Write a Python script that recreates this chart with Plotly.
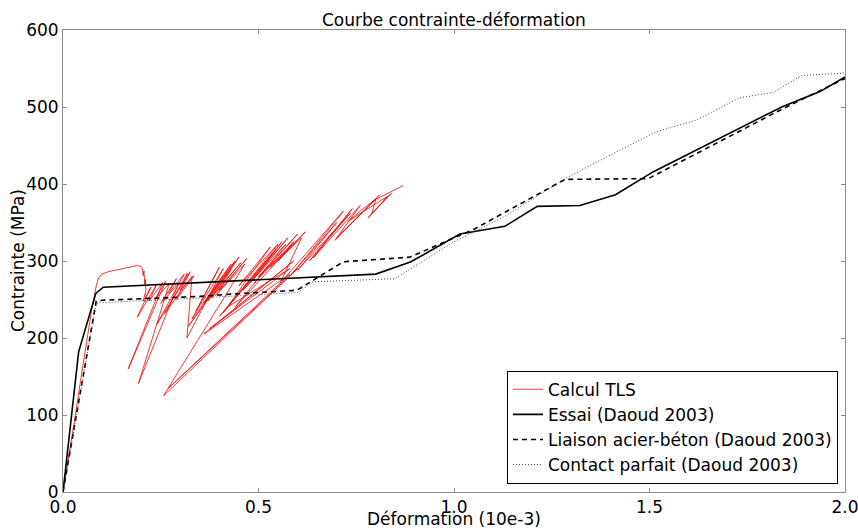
import plotly.graph_objects as go

# Essai (Daoud 2003) - courbe expérimentale
essai_x = [0.0, 0.04, 0.084, 0.103, 0.555, 0.80, 0.89, 1.015, 1.13, 1.213, 1.322, 1.413, 1.51, 1.838, 1.936, 2.0]
essai_y = [0, 182, 258, 266, 277, 283, 299, 335, 345, 371, 372, 386, 416, 500, 520, 539]

# Liaison acier-béton (Daoud 2003)
liaison_x = [0.0, 0.085, 0.1, 0.35, 0.43, 0.598, 0.64, 0.717, 0.887, 1.054, 1.284, 1.497, 1.838, 2.0]
liaison_y = [0, 248, 249, 254, 257, 262, 275, 299, 305, 342, 406, 407, 497, 537]

# Contact parfait (Daoud 2003)
contact_x = [0.0, 0.085, 0.1, 0.35, 0.6, 0.64, 0.849, 1.0, 1.13, 1.284, 1.39, 1.518, 1.62, 1.731, 1.817, 1.889, 2.0]
contact_y = [0, 245, 246, 252, 259, 273, 277, 325, 358, 407, 435, 468, 483, 512, 519, 541, 544]

# Calcul TLS - réponse numérique (chargement puis cycles de décharge/recharge)
tls_x = [0.0, 0.015, 0.03, 0.045, 0.06, 0.072, 0.08, 0.086, 0.092, 0.1, 0.115, 0.14, 0.17, 0.19, 0.2,
         0.203, 0.205, 0.207, 0.209, 0.211, 0.212,
         0.205, 0.225, 0.19, 0.24, 0.22, 0.255,
         0.167, 0.262, 0.235, 0.272, 0.193, 0.295,
         0.25, 0.29, 0.27, 0.31, 0.24, 0.325,
         0.29, 0.335, 0.30, 0.318, 0.26, 0.33,
         0.317, 0.41, 0.34, 0.40, 0.33, 0.43, 0.36, 0.44, 0.32, 0.45,
         0.38, 0.455, 0.37, 0.43, 0.40, 0.47, 0.39, 0.465,
         0.257, 0.60, 0.27, 0.58, 0.36, 0.59, 0.375, 0.58,
         0.42, 0.53, 0.45, 0.55, 0.41, 0.545, 0.40, 0.56, 0.48, 0.575, 0.46, 0.57,
         0.44, 0.585, 0.5, 0.6, 0.49, 0.59, 0.55, 0.62, 0.53, 0.61,
         0.555, 0.717, 0.565, 0.71, 0.58, 0.70, 0.60, 0.735, 0.63, 0.74, 0.64, 0.76,
         0.696, 0.81, 0.70, 0.80, 0.79, 0.84, 0.78, 0.83,
         0.73, 0.78, 0.80, 0.84, 0.87]
tls_y = [0, 45, 95, 145, 195, 232, 255, 270, 279, 283, 286, 289, 292, 294, 293,
         290, 281, 287, 270, 276, 262,
         248, 266, 227, 270, 248, 272,
         160, 273, 250, 271, 141, 270,
         245, 277, 258, 283, 218, 286,
         250, 281, 262, 284, 232, 280,
         200, 290, 235, 292, 225, 296, 245, 300, 215, 305,
         252, 298, 248, 290, 262, 303, 255, 296,
         125, 290, 135, 283, 205, 300, 212, 290,
         240, 318, 268, 322, 233, 315, 228, 325, 272, 330, 262, 322,
         240, 320, 280, 335, 272, 325, 300, 338, 292, 330,
         271, 365, 276, 360, 280, 350, 288, 362, 300, 368, 304, 372,
         327, 386, 330, 380, 362, 388, 356, 384,
         352, 373, 380, 390, 398]

x_ticks = [0.0, 0.5, 1.0, 1.5, 2.0]
x_tick_labels = ["0.0", "0.5", "1.0", "1.5", "2.0"]
y_ticks = [0, 100, 200, 300, 400, 500, 600]

FONT = "DejaVu Sans"
PLOT_L, PLOT_R, PLOT_T, PLOT_B = 63, 845, 30, 492
PLOT_W, PLOT_H = PLOT_R - PLOT_L, PLOT_B - PLOT_T

fig = go.Figure()
fig.add_trace(go.Scatter(x=tls_x, y=tls_y, mode="lines", name="Calcul TLS",
                         legendgroup="a", line=dict(color="#ff0000", width=0.8)))
fig.add_trace(go.Scatter(x=essai_x, y=essai_y, mode="lines", name="Essai (Daoud 2003)",
                         legendgroup="b", line=dict(color="black", width=1.6)))
fig.add_trace(go.Scatter(x=liaison_x, y=liaison_y, mode="lines", name="Liaison acier-béton (Daoud 2003)",
                         legendgroup="c", line=dict(color="black", width=1.6, dash="5px,4px")))
fig.add_trace(go.Scatter(x=contact_x, y=contact_y, mode="lines", name="Contact parfait (Daoud 2003)",
                         legendgroup="d", line=dict(color="#444444", width=1, dash="1px,2px")))

axis_common = dict(
    showline=True, linecolor="#8c8c8c", linewidth=1, mirror="ticks",
    ticks="inside", ticklen=4, tickcolor="#8c8c8c",
    showgrid=False, zeroline=False, automargin=False,
    ticklabeloverflow="allow",
    tickfont=dict(family=FONT, size=17, color="black"),
)

fig.update_layout(
    width=858, height=528,
    margin=dict(l=PLOT_L, r=858 - PLOT_R, t=PLOT_T, b=528 - PLOT_B),
    paper_bgcolor="white", plot_bgcolor="white",
    font=dict(family=FONT, color="black"),
    title=dict(text="Courbe contrainte-déformation", x=0.529, xanchor="center",
               y=1 - 20 / 528, yref="container", yanchor="middle",
               font=dict(family=FONT, size=17, color="black")),
    xaxis=dict(range=[0, 2], tickvals=x_ticks, ticktext=x_tick_labels, **axis_common),
    yaxis=dict(range=[0, 600], tickvals=y_ticks, **axis_common),
    legend=dict(x=0.991, y=0.018, xanchor="right", yanchor="bottom",
                bordercolor="black", borderwidth=1, bgcolor="white",
                font=dict(family=FONT, size=17), tracegroupgap=0,
                traceorder="grouped"),
    showlegend=True,
)

# Axis titles placed as annotations for precise placement
fig.add_annotation(text="Déformation (10e-3)", xref="paper", yref="paper",
                   x=0.5, y=(PLOT_B - 519) / PLOT_H, xanchor="center", yanchor="middle",
                   showarrow=False, font=dict(family=FONT, size=17, color="black"))
fig.add_annotation(text="Contrainte (MPa)", xref="paper", yref="paper",
                   x=(18 - PLOT_L) / PLOT_W, y=0.5, xanchor="center", yanchor="middle",
                   textangle=-90, showarrow=False,
                   font=dict(family=FONT, size=17, color="black"))

fig.write_html("out.html")
